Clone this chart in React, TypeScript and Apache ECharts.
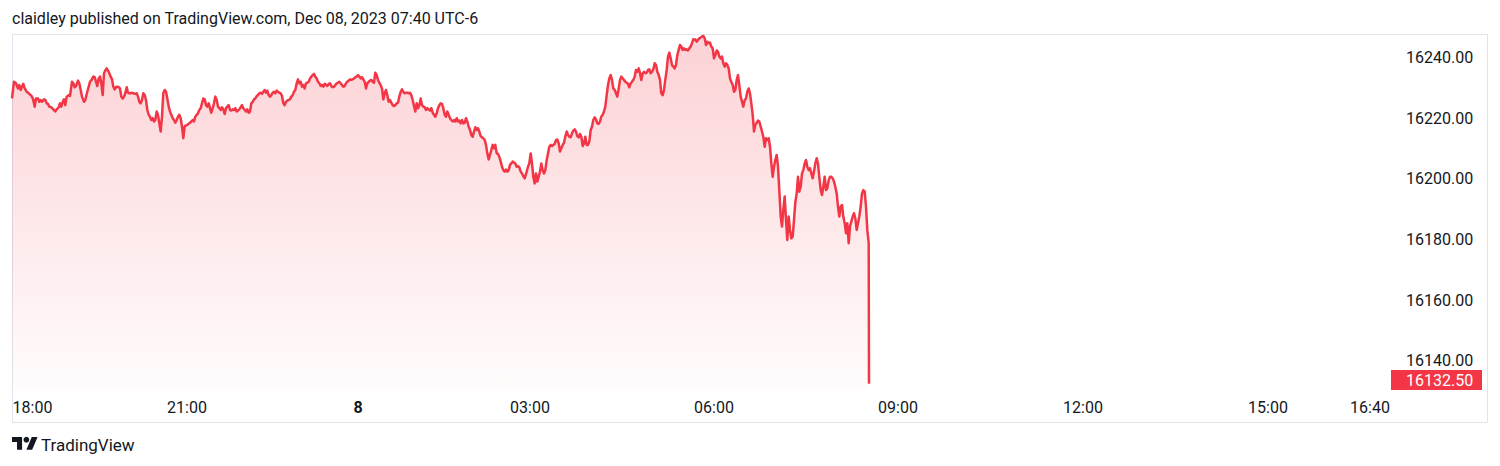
import React, { useEffect, useRef } from 'react';
import * as echarts from 'echarts';

const headerText = 'claidley published on TradingView.com, Dec 08, 2023 07:40 UTC-6';
const brandText = 'TradingView';
const timeTickBars = [20.5, 175, 346, 518, 702, 886, 1071, 1256, 1358];
const timeTickLabels = ['18:00', '21:00', '8', '03:00', '06:00', '09:00', '12:00', '15:00', '16:40'];
const priceTicks = [16140, 16160, 16180, 16200, 16220, 16240];
const priceMin = 16130.44;
const priceMax = 16247.41;
const barMax = 1378;

// [bar index, price]
const pricePath: [number, number][] = [
  [0, 16226.5], [2, 16232.0], [4, 16231.5], [6, 16229.8], [7.3, 16230.9], [8.7, 16229.3], [10, 16230.4], [11.3, 16231.3],
  [12.7, 16229.8], [14.7, 16228.7], [16.7, 16228.2], [18.7, 16227.6], [20, 16227.1], [21.3, 16226.0], [22.7, 16223.8],
  [24, 16226.5], [26, 16226.5], [27.3, 16225.4], [28.7, 16226.0], [30, 16225.4], [32, 16226.2], [33.3, 16226.0],
  [34.7, 16224.9], [36, 16224.7], [37.3, 16223.8], [39.3, 16223.6], [41.3, 16222.9], [43.3, 16222.2], [44.7, 16222.9],
  [46.7, 16223.6], [48, 16224.9], [49.3, 16223.8], [50.7, 16225.4], [52, 16226.2], [53.3, 16224.3], [54.7, 16227.1],
  [56.7, 16227.6], [58, 16227.3], [60, 16232.0], [61.3, 16231.5], [62.7, 16230.2], [64, 16230.6], [66, 16232.4],
  [67.3, 16231.5], [68.7, 16229.3], [70, 16227.1], [72, 16225.4], [73.3, 16226.0], [75.3, 16228.7], [76.7, 16230.4],
  [78, 16232.0], [80, 16232.8], [81.3, 16233.7], [82.7, 16233.5], [84, 16232.0], [85.3, 16230.6], [86.7, 16233.1],
  [88, 16233.7], [89.3, 16231.5], [90.7, 16227.6], [92, 16234.8], [93.3, 16235.7], [94.7, 16236.4], [96, 16235.7],
  [97.3, 16234.8], [98.7, 16233.7], [100, 16232.8], [101.3, 16230.4], [102.7, 16229.5], [104, 16230.2], [105.3, 16230.4],
  [106.7, 16230.2], [108, 16229.8], [109.3, 16227.1], [110.7, 16226.5], [112, 16227.1], [113.3, 16228.2], [114.7, 16230.2],
  [116, 16228.4], [117.3, 16228.2], [118.7, 16228.2], [120, 16228.4], [121.3, 16228.2], [123.3, 16228.0], [124.7, 16228.2],
  [126, 16227.1], [127.3, 16225.4], [128.7, 16224.9], [130, 16226.0], [131.3, 16228.2], [132.7, 16227.6], [134, 16226.0],
  [135.3, 16222.7], [136.7, 16221.1], [138, 16220.5], [139.3, 16219.4], [140.7, 16220.0], [142, 16218.9], [143.3, 16219.4],
  [144.7, 16222.2], [146, 16221.1], [147.3, 16218.3], [148.7, 16215.6], [150, 16220.5], [151.3, 16228.2], [152.7, 16229.3],
  [154, 16228.7], [155.3, 16226.5], [156.7, 16223.8], [158, 16222.2], [159.3, 16221.1], [160.7, 16220.0], [162, 16219.4],
  [163.3, 16218.5], [164.7, 16219.4], [166, 16220.5], [167.3, 16221.1], [168.7, 16220.0], [170, 16217.2], [171.3, 16213.4],
  [172.7, 16217.4],
  [175.3, 16217.8], [177.3, 16218.3], [179.3, 16218.9], [180.7, 16219.4], [182, 16218.9], [183.3, 16220.5], [184.7, 16221.1],
  [186, 16221.6], [187.3, 16222.7], [188.7, 16223.3], [190, 16224.9], [191.3, 16226.5], [192.7, 16226.2], [194, 16224.3],
  [195.3, 16223.8], [196.7, 16224.9], [198, 16223.3], [199.3, 16221.8], [200.7, 16223.3], [202, 16224.9], [203.3, 16227.1],
  [204.7, 16226.0], [206, 16223.8], [207.3, 16223.3], [208.7, 16222.7], [210, 16223.6], [211.3, 16222.9], [212.7, 16221.4],
  [214, 16223.3], [215.3, 16223.8], [216.7, 16224.3], [218, 16222.7], [219.3, 16222.5], [220.7, 16222.9], [222, 16222.7],
  [223.3, 16223.3], [224.7, 16222.2], [226, 16222.5], [227.3, 16222.9], [228.7, 16223.6], [230, 16224.3], [231.3, 16223.3],
  [232.7, 16222.7], [234, 16222.2], [235.3, 16222.9], [236.7, 16221.8], [238, 16222.2], [239.3, 16224.9], [240.7, 16225.4],
  [242, 16226.2], [243.3, 16226.5], [244.7, 16227.3], [246, 16227.6], [247.3, 16228.2], [248.7, 16228.4], [250, 16228.0],
  [251.3, 16228.7], [252.7, 16229.3], [254, 16228.4], [255.3, 16229.1], [256.7, 16227.6], [258, 16227.1], [259.3, 16227.6],
  [260.7, 16228.4], [262, 16228.7], [263.3, 16228.2], [264.7, 16229.1], [266, 16228.7], [267.3, 16228.4], [268.7, 16228.2],
  [270, 16227.3], [271.3, 16224.9], [272.7, 16224.3], [274, 16225.4], [275.3, 16225.8], [276.7, 16226.0], [278, 16226.2],
  [279.3, 16227.1], [280.7, 16227.6], [282, 16228.7], [283.3, 16229.3], [284.7, 16231.5], [286, 16232.8], [287.3, 16231.5],
  [288.7, 16232.0], [290, 16230.4], [291.3, 16230.9], [292.7, 16229.8], [294, 16231.5], [295.3, 16231.7], [296.7, 16232.0],
  [298, 16233.1], [299.3, 16233.7], [300.7, 16234.2], [302, 16234.6], [303.3, 16233.7], [304.7, 16233.1], [306, 16232.0],
  [307.3, 16231.5], [308.7, 16230.6], [310, 16231.0], [311.3, 16230.4], [312.7, 16231.3], [314, 16231.0], [315.3, 16230.6],
  [316.7, 16231.3], [318, 16231.5], [319.3, 16230.6], [320.7, 16230.2], [322, 16230.4], [323.3, 16230.9], [324.7, 16231.5],
  [326, 16231.7], [327.3, 16232.0], [328.7, 16231.5], [330, 16230.9], [331.3, 16230.4], [332.7, 16230.6], [334, 16231.5],
  [335.3, 16232.0], [336.7, 16232.4], [338, 16232.8], [339.3, 16232.6], [340.7, 16232.8], [342, 16233.1],
  [343.3, 16233.5], [344.7, 16233.7], [346, 16234.2], [347.3, 16233.7], [348.7, 16233.1], [350, 16233.5], [351.3, 16232.8],
  [352.7, 16232.0], [354, 16229.8], [355.3, 16231.5], [356.7, 16232.0], [358, 16232.4], [359.3, 16232.6], [360.7, 16232.0],
  [362, 16231.7], [363.3, 16235.0], [364.7, 16234.2], [366, 16232.6], [367.3, 16231.7], [368.7, 16230.9], [370, 16229.8],
  [371.3, 16226.2], [372.7, 16228.2], [374, 16229.3], [375.3, 16227.6], [376.7, 16225.4], [378, 16226.0], [379.3, 16225.1],
  [380.7, 16224.3], [382, 16224.0], [383.3, 16224.3], [384.7, 16224.9], [386, 16225.1], [387.3, 16227.1], [388.7, 16228.7],
  [390, 16229.5], [391.3, 16228.7], [392.7, 16228.2], [394, 16228.4], [395.3, 16228.4], [396.7, 16228.2], [398, 16228.4],
  [399.3, 16227.6], [400.7, 16226.0], [402, 16224.0], [403.3, 16222.2], [404.7, 16224.9], [406, 16223.3], [407.3, 16224.3],
  [408.7, 16226.5], [410, 16224.3], [411.3, 16223.8], [412.7, 16223.6], [414, 16222.7], [415.3, 16223.3], [416.7, 16222.9],
  [418, 16222.5], [419.3, 16223.3], [420.7, 16221.8], [422, 16221.1], [423.3, 16220.5], [424.7, 16221.6], [426, 16223.3],
  [427.3, 16224.3], [428.7, 16224.9], [430, 16224.7], [431.3, 16223.3], [432.7, 16221.1], [434, 16220.5], [435.3, 16222.2],
  [436.7, 16221.1], [438, 16220.0], [439.3, 16219.4], [440.7, 16218.9], [442, 16219.4], [443.3, 16218.9], [444.7, 16220.0],
  [446, 16218.9], [447.3, 16219.2], [448.7, 16218.3], [450, 16219.4], [451.3, 16218.3], [452.7, 16218.5], [454, 16220.0],
  [455.3, 16218.9], [456.7, 16217.2], [458, 16216.1], [459.3, 16214.5], [460.7, 16213.9], [462, 16215.6], [463.3, 16217.0],
  [464.7, 16216.1], [466, 16216.7], [467.3, 16215.6], [468.7, 16214.1], [470, 16213.7], [471.3, 16213.4], [472.7, 16212.8],
  [474, 16211.2], [475.3, 16208.4], [476.7, 16206.4], [478, 16207.9], [479.3, 16209.5], [480.7, 16211.2], [482, 16210.1],
  [483.3, 16211.2], [484.7, 16208.4], [486, 16208.2], [487.3, 16207.3], [488.7, 16205.7], [490, 16204.0], [491.3, 16202.9],
  [492.7, 16202.4], [494, 16203.1], [495.3, 16202.4], [496.7, 16202.9], [498, 16204.6], [499.3, 16205.1], [500.7, 16205.7],
  [502, 16205.4], [503.3, 16205.1], [504.7, 16204.0], [506, 16204.2], [507.3, 16203.8], [508.7, 16202.4], [510, 16201.8],
  [511.3, 16200.9], [512.7, 16200.2],
  [514.7, 16202.4], [516, 16204.0], [517.3, 16205.1], [518.7, 16208.4], [520, 16205.1], [521.3, 16200.7], [522.7, 16198.5],
  [524, 16201.8], [525.3, 16199.1], [526.7, 16200.7], [528, 16202.4], [529.3, 16205.1], [530.7, 16202.9], [532, 16201.8],
  [533.3, 16202.9], [534.7, 16206.2], [536, 16208.4], [537.3, 16210.6], [538.7, 16211.2], [540, 16210.8], [541.3, 16211.2],
  [542.7, 16211.5], [544, 16212.8], [545.3, 16213.0], [546.7, 16211.7], [548, 16209.0], [549.3, 16210.1], [550.7, 16211.2],
  [552, 16211.9], [553.3, 16213.9], [554.7, 16215.6], [556, 16214.5], [557.3, 16213.9], [558.7, 16213.7], [560, 16215.0],
  [561.3, 16215.9], [562.7, 16216.3], [564, 16215.6], [565.3, 16214.1], [566.7, 16213.7], [568, 16214.8], [569.3, 16213.9],
  [570.7, 16210.8], [572, 16211.7], [573.3, 16213.9], [574.7, 16211.2], [576, 16211.2], [577.3, 16212.3], [578.7, 16216.1],
  [580, 16217.2], [581.3, 16219.4], [582.7, 16220.3], [584, 16219.6], [585.3, 16218.3], [586.7, 16218.1], [588, 16218.9],
  [589.3, 16220.5], [590.7, 16221.1], [592, 16222.2], [593.3, 16223.8], [594.7, 16227.6], [596, 16230.9], [597.3, 16233.1],
  [598.7, 16234.2], [600, 16232.6], [601.3, 16229.8], [602.7, 16229.3], [604, 16228.2], [605.3, 16227.1], [606.7, 16229.8],
  [608, 16232.6], [609.3, 16233.7], [610.7, 16233.1], [612, 16232.6], [613.3, 16232.0], [614.7, 16231.7], [616, 16231.3],
  [617.3, 16230.2], [618.7, 16231.5], [620, 16232.0], [621.3, 16232.6], [622.7, 16233.7], [624, 16235.9], [625.3, 16235.3],
  [626.7, 16236.4], [628, 16234.8], [629.3, 16232.6], [630.7, 16234.8], [632, 16235.3], [633.3, 16234.8], [634.7, 16235.0],
  [636, 16235.9], [637.3, 16236.1], [638.7, 16234.8], [640, 16235.3], [641.3, 16236.1], [642.7, 16238.1], [644, 16237.5],
  [645.3, 16235.3], [646.7, 16234.2], [648, 16232.6], [649.3, 16228.2], [650.7, 16227.6], [652, 16229.3], [653.3, 16232.6],
  [654.7, 16235.9], [656, 16240.3], [657.3, 16241.6], [658.7, 16239.7], [660, 16237.5], [661.3, 16237.0], [662.7, 16236.4],
  [664, 16237.5], [665.3, 16240.8], [666.7, 16242.5], [668, 16244.1], [669.3, 16243.6], [670.7, 16242.5], [672, 16243.0],
  [673.3, 16242.5], [674.7, 16242.7], [676, 16242.3], [677.3, 16243.0], [678.7, 16243.6], [680, 16244.7], [681.3, 16246.0],
  [682.7, 16245.8],
  [683.3, 16246.0], [684.7, 16245.2], [686, 16245.8], [687.3, 16246.3], [688.7, 16246.6], [690, 16246.9], [691.3, 16247.1],
  [692.7, 16246.3], [694, 16244.1], [695.3, 16245.2], [696.7, 16244.7], [698, 16244.9], [699.3, 16243.6], [700.7, 16243.0],
  [702, 16239.7], [703.3, 16240.8], [704.7, 16242.3], [706, 16241.9], [707.3, 16240.3], [708.7, 16239.7], [710, 16240.3],
  [711.3, 16238.1], [712.7, 16237.0], [714, 16238.1], [715.3, 16237.5], [716.7, 16236.4], [718, 16233.1], [719.3, 16232.0],
  [720.7, 16230.9], [722, 16228.7], [723.3, 16229.3], [724.7, 16232.6], [726, 16234.2], [727.3, 16230.9], [728.7, 16227.1],
  [730, 16225.4], [731.3, 16223.8], [732.7, 16226.0], [734, 16226.5], [735.3, 16228.7], [736.7, 16229.8], [738, 16228.2],
  [739.3, 16224.9], [740.7, 16221.1], [742, 16215.6], [743.3, 16217.8], [744.7, 16218.5], [746, 16219.2], [747.3, 16218.9],
  [748.7, 16217.2], [750, 16215.6], [751.3, 16213.9], [752.7, 16210.6], [754, 16213.4], [755.3, 16212.8], [756.7, 16213.4],
  [758, 16210.6], [759.3, 16205.1], [760.7, 16200.7], [762, 16204.0], [763.3, 16206.2], [764.7, 16207.9], [766, 16204.0],
  [767.3, 16196.3], [768.7, 16187.6], [770, 16184.3], [771.3, 16189.8], [772.7, 16194.2], [774, 16186.5], [775.3, 16179.9],
  [776.7, 16187.6], [778, 16183.2], [779.3, 16180.4], [780.7, 16181.0], [782, 16186.5], [783.3, 16192.2], [784.7, 16195.2],
  [786, 16200.7], [787.3, 16195.8], [788.7, 16197.4], [790, 16201.8], [791.3, 16202.9], [792.7, 16205.1], [794, 16206.2],
  [795.3, 16204.0], [796.7, 16202.9], [798, 16203.5], [799.3, 16201.8], [800.7, 16200.2], [802, 16202.4], [803.3, 16205.1],
  [804.7, 16206.8], [806, 16205.1], [807.3, 16200.7], [808.7, 16196.3], [810, 16194.7], [811.3, 16197.4], [812.7, 16200.7],
  [814, 16196.3], [815.3, 16196.9], [816.7, 16199.6], [818, 16200.7], [819.3, 16200.7], [820.7, 16200.2], [822, 16199.1],
  [823.3, 16197.4], [824.7, 16195.2], [826, 16190.9], [827.3, 16187.6], [828.7, 16190.9], [830, 16191.4], [831.3, 16187.6],
  [832.7, 16185.4], [834, 16182.1], [835.3, 16185.4], [836.7, 16178.8], [838, 16184.3], [839.3, 16185.9], [840.7, 16187.6],
  [842, 16188.7], [843.3, 16187.0], [844.7, 16183.2], [846, 16185.4], [847.3, 16187.6], [848.7, 16190.9], [850, 16195.2],
  [851.3, 16196.3], [852.7, 16195.8], [854, 16190.9], [855.3, 16183.2], [856.7, 16178.8], [857, 16132.5],
];

const TV_LOGO = 'M14 22H7V11H0V4h14v18zM28 22h-8l7.5-18h8L28 22z';
let logoRegistered = false;

const FONT = 'Roboto, "Noto Sans", sans-serif';
const TEXT = '#131722';
const RED = '#F23645';

export default function App() {
  const ref = useRef<HTMLDivElement>(null);
  useEffect(() => {
    if (!ref.current) return;
    if (!logoRegistered) {
      echarts.graphic.registerShape('tvlogo', echarts.graphic.extendPath(TV_LOGO, {}) as any);
      logoRegistered = true;
    }
    const chart = echarts.init(ref.current, undefined, { renderer: 'svg' });
    const gridLeft = 12;
    const gridRight = 110;
    const gridTop = 35;
    const gridBottom = 76;
    chart.setOption({
      animation: false,
      textStyle: { fontFamily: FONT },
      grid: { left: gridLeft, right: gridRight, top: gridTop, bottom: gridBottom, containLabel: false },
      xAxis: {
        type: 'value',
        min: 0,
        max: barMax,
        axisLine: { show: false },
        axisTick: { show: false },
        splitLine: { show: false },
        axisLabel: {
          customValues: timeTickBars,
          color: TEXT,
          fontSize: 16,
          fontFamily: FONT,
          lineHeight: 16,
          margin: 9,
          formatter: (v: number) => {
            const i = timeTickBars.indexOf(v);
            const t = i >= 0 ? timeTickLabels[i] : '';
            return t === '8' ? '{b|8}' : t;
          },
          rich: { b: { fontWeight: 'bold', fontSize: 16, color: TEXT, fontFamily: FONT, lineHeight: 16 } },
        },
      },
      yAxis: {
        type: 'value',
        position: 'right',
        min: priceMin,
        max: priceMax,
        axisLine: { show: false },
        axisTick: { show: false },
        splitLine: { show: false },
        axisLabel: {
          customValues: priceTicks,
          color: TEXT,
          fontSize: 16,
          fontFamily: FONT,
          margin: 16,
          align: 'left',
          formatter: (v: number) => v.toFixed(2),
        },
      },
      series: [
        {
          type: 'line',
          data: pricePath,
          showSymbol: false,
          symbol: 'none',
          clip: true,
          lineStyle: { color: RED, width: 2.5, join: 'round' },
          areaStyle: {
            origin: 'start',
            color: new echarts.graphic.LinearGradient(0, 0, 0, 1, [
              { offset: 0, color: 'rgba(242,54,69,0.32)' },
              { offset: 1, color: 'rgba(242,54,69,0.02)' },
            ]),
          },
        },
      ],
    });

    const last = pricePath[pricePath.length - 1][1];
    const py = chart.convertToPixel({ yAxisIndex: 0 } as any, last) as number;
    const paneBottom = 466 - gridBottom;
    const tagH = 20;
    const cy = Math.min(py, paneBottom - tagH / 2);
    const logoScale = 0.72;
    chart.setOption({
      graphic: [
        {
          type: 'text',
          left: 12,
          top: 10,
          style: { text: headerText, fill: TEXT, font: `16px ${FONT}` },
        },
        {
          type: 'rect',
          shape: { x: 12.5, y: 34.5, width: 1475, height: 388 },
          style: { fill: 'none', stroke: '#e0e3eb', lineWidth: 1 },
          silent: true,
        },
        {
          type: 'rect',
          shape: { x: 1391, y: cy - tagH / 2, width: 91, height: tagH },
          style: { fill: RED },
        },
        {
          type: 'text',
          x: 1406,
          y: cy,
          style: { text: last.toFixed(2), fill: '#ffffff', font: `16px ${FONT}`, verticalAlign: 'middle', align: 'left' },
        },
        {
          type: 'tvlogo',
          x: 12,
          y: 434,
          scaleX: logoScale,
          scaleY: logoScale,
          style: { fill: TEXT },
        },
        {
          type: 'circle',
          shape: { cx: 12 + 20 * logoScale, cy: 434 + 8 * logoScale, r: 4 * logoScale },
          style: { fill: TEXT },
        },
        {
          type: 'text',
          x: 41,
          y: 445,
          style: { text: brandText, fill: TEXT, font: `17px ${FONT}`, verticalAlign: 'middle' },
        },
      ],
    });
    return () => chart.dispose();
  }, []);
  return <div ref={ref} style={{ position: 'absolute', left: 0, top: 0, width: 1500, height: 466 }} />;
}
